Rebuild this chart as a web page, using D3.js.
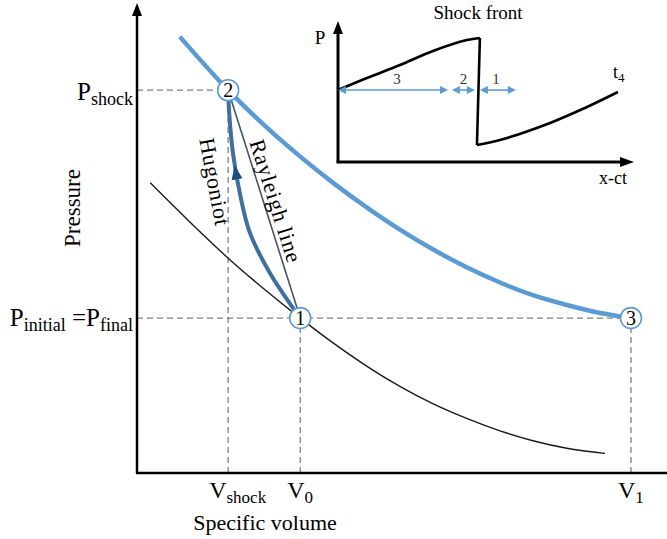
<!DOCTYPE html>
<html>
<head>
<meta charset="utf-8">
<script src="https://cdn.jsdelivr.net/npm/d3@7"></script>
<style>
  body { margin: 0; background: #fff; }
  svg { display: block; font-family: "Liberation Serif", "Times New Roman", serif; }
</style>
</head>
<body>
<div id="graf"></div>
<script>
// Datos (unidades arbitrarias, 0-10 en ambos ejes)
const vShock = 1.72, v0 = 3.08, v1 = 9.32
const pShock = 8.18, pInicial = 3.31

const puntos = ["1", "2", "3"]
const puntosV = [v0, vShock, v1]
const puntosP = [pInicial, pShock, pInicial]

// isentropa (azul claro)
const isoV = [0.81, 1.72, 2.42, 3.08, 3.70, 4.34, 4.96, 5.58, 6.23, 6.85, 7.47, 8.11, 8.74, 9.32]
const isoP = [9.32, 8.18, 7.41, 6.76, 6.20, 5.67, 5.20, 4.78, 4.39, 4.07, 3.80, 3.59, 3.42, 3.31]

// curva negra
const curvaV = [0.25, 1.00, 1.72, 2.42, 3.08, 3.70, 4.34, 4.96, 5.58, 6.23, 6.85, 7.47, 8.11, 8.83]
const curvaP = [6.20, 5.36, 4.59, 3.91, 3.31, 2.78, 2.28, 1.85, 1.48, 1.16, 0.90, 0.69, 0.53, 0.42]

// Hugoniot, de 1 a 2
const hugV = [3.08, 2.51, 2.13, 1.94, 1.81, 1.74, 1.72]
const hugP = [3.31, 4.27, 5.13, 5.98, 6.84, 7.69, 8.18]
const pFlecha = 6.4

// Recuadro: perfil de presion
const frenteX = [0, 0.98, 2.10, 3.22, 4.37, 4.81, 4.71, 5.49, 7.19, 8.37, 9.49]
const frenteP = [5.14, 6.0, 6.93, 7.93, 8.71, 8.86, 1.21, 1.57, 2.79, 3.86, 5.0]
const zonas = ["3", "2", "1"]
const zonasIni = [0, 3.86, 4.81]
const zonasFin = [3.73, 4.64, 6.03]
const pZonas = 5.14

const azul = "#5b9bd5"
const azulOscuro = "#3f6f9f"

const svg = d3.select("#graf").append("svg")
  .attr("width", 667).attr("height", 539)

const x = d3.scaleLinear().domain([0, 10]).range([137, 667])
const y = d3.scaleLinear().domain([0, 10]).range([473, 5])

const zip = (a, b) => a.map((d, i) => [d, b[i]])
const linea = d3.line().x(d => x(d[0])).y(d => y(d[1])).curve(d3.curveCatmullRom)

// lineas punteadas
const guias = [
  [[0, pShock], [vShock, pShock]],
  [[0, pInicial], [v1, pInicial]],
  [[vShock, 0], [vShock, pShock]],
  [[v0, 0], [v0, pInicial]],
  [[v1, 0], [v1, pInicial]],
]
svg.append("g").selectAll("line").data(guias).join("line")
  .attr("x1", d => x(d[0][0])).attr("y1", d => y(d[0][1]))
  .attr("x2", d => x(d[1][0])).attr("y2", d => y(d[1][1]))
  .attr("stroke", "#7f7f7f").attr("stroke-width", 1.3)
  .attr("stroke-dasharray", "6,4")

// ejes
svg.append("line").attr("x1", x(0)).attr("y1", y(0)).attr("x2", x(0)).attr("y2", 14)
  .attr("stroke", "#000").attr("stroke-width", 2.5)
svg.append("path").attr("d", `M${x(0) - 5},16 L${x(0)},3 L${x(0) + 5},16 Z`).attr("fill", "#000")
svg.append("line").attr("x1", x(0) - 1).attr("y1", y(0)).attr("x2", 667).attr("y2", y(0))
  .attr("stroke", "#000").attr("stroke-width", 2.5)

// curvas
const suave = d3.line().x(d => x(d[0])).y(d => y(d[1])).curve(d3.curveMonotoneX)
svg.append("path").attr("d", suave(zip(curvaV, curvaP)))
  .attr("fill", "none").attr("stroke", "#1a1a1a").attr("stroke-width", 1.4)
svg.append("path").attr("d", suave(zip(isoV, isoP)))
  .attr("fill", "none").attr("stroke", azul).attr("stroke-width", 4.5)

// Rayleigh
svg.append("line")
  .attr("x1", x(v0)).attr("y1", y(pInicial)).attr("x2", x(vShock)).attr("y2", y(pShock))
  .attr("stroke", "#44546a").attr("stroke-width", 1.6)

// Hugoniot
const hug = svg.append("path").attr("d", linea(zip(hugV, hugP)))
  .attr("fill", "none").attr("stroke", azulOscuro).attr("stroke-width", 4)
const nodo = hug.node()
const largo = nodo.getTotalLength()
let lf = 0
for (let l = 0; l <= largo; l += 0.5) {
  if (nodo.getPointAtLength(l).y <= y(pFlecha)) { lf = l; break }
}
const pa = nodo.getPointAtLength(lf), pb = nodo.getPointAtLength(lf + 2)
const ang = Math.atan2(pb.y - pa.y, pb.x - pa.x) * 180 / Math.PI
svg.append("path").attr("d", "M8,0 L-6,-5.5 L-6,5.5 Z").attr("fill", "#1f4e79")
  .attr("transform", `translate(${pa.x},${pa.y}) rotate(${ang})`)

// textos sobre las curvas
svg.append("text").attr("transform", "translate(215,182) rotate(79.5)")
  .attr("text-anchor", "middle").attr("dy", "0.35em")
  .attr("font-size", 22).attr("letter-spacing", 0.8).text("Hugoniot")
svg.append("text").attr("transform", "translate(276,201) rotate(72.5)")
  .attr("text-anchor", "middle").attr("dy", "0.35em")
  .attr("font-size", 22).attr("letter-spacing", 0.8).text("Rayleigh line")

// puntos numerados
const gp = svg.append("g").selectAll("g").data(puntos).join("g")
  .attr("transform", (d, i) => `translate(${x(puntosV[i])},${y(puntosP[i])})`)
gp.append("circle").attr("r", 10.5).attr("fill", "#fff")
  .attr("stroke", azul).attr("stroke-width", 1.6)
gp.append("text").attr("text-anchor", "middle").attr("dy", "0.36em")
  .attr("font-size", 20).text(d => d)

// etiquetas de los ejes
const conSub = (sel, base, sub, tam, tamSub) => {
  sel.append("tspan").attr("font-size", tam).text(base)
  sel.append("tspan").attr("font-size", tamSub).attr("dy", 5).text(sub)
}
const tShock = svg.append("text").attr("x", 133).attr("y", y(pShock) + 10).attr("text-anchor", "end")
conSub(tShock, "P", "shock", 25, 18)
const tIni = svg.append("text").attr("x", 133).attr("y", y(pInicial) + 8).attr("text-anchor", "end")
tIni.append("tspan").attr("font-size", 25).text("P")
tIni.append("tspan").attr("font-size", 18).attr("dy", 5).text("initial")
tIni.append("tspan").attr("font-size", 25).attr("dy", -5).text(" =P")
tIni.append("tspan").attr("font-size", 18).attr("dy", 5).text("final")

const tV = [["V", "shock", vShock], ["V", "0", v0], ["V", "1", v1]]
tV.forEach(([b, s, v]) => {
  const t = svg.append("text").attr("x", x(v) - 19 + (s === "shock" ? 0 : 6)).attr("y", 498)
  conSub(t, b, s, 24, 17)
})
svg.append("text").attr("x", 265).attr("y", 530).attr("text-anchor", "middle")
  .attr("font-size", 22).text("Specific volume")
svg.append("text").attr("transform", "translate(72,208) rotate(-90)")
  .attr("text-anchor", "middle").attr("dy", "0.35em")
  .attr("font-size", 23).text("Pressure")

// Recuadro
const xi = d3.scaleLinear().domain([0, 10]).range([338, 633])
const yi = d3.scaleLinear().domain([0, 10]).range([162, 22])
const gi = svg.append("g")
gi.append("line").attr("x1", xi(0)).attr("y1", yi(0)).attr("x2", xi(0)).attr("y2", 32)
  .attr("stroke", "#000").attr("stroke-width", 3)
gi.append("path").attr("d", `M${xi(0) - 5},34 L${xi(0)},21 L${xi(0) + 5},34 Z`).attr("fill", "#000")
gi.append("line").attr("x1", xi(0) - 1.5).attr("y1", yi(0)).attr("x2", 622).attr("y2", yi(0))
  .attr("stroke", "#000").attr("stroke-width", 3)
gi.append("path").attr("d", `M620,${yi(0) - 5} L634,${yi(0)} L620,${yi(0) + 5} Z`).attr("fill", "#000")

const perfil = zip(frenteX, frenteP)
const lineaI = d3.line().x(d => xi(d[0])).y(d => yi(d[1]))
gi.append("path").attr("d", lineaI.curve(d3.curveCatmullRom)(perfil.slice(0, 6)))
  .attr("fill", "none").attr("stroke", "#000").attr("stroke-width", 2.6)
gi.append("path").attr("d", lineaI.curve(d3.curveLinear)(perfil.slice(5, 7)))
  .attr("fill", "none").attr("stroke", "#000").attr("stroke-width", 2.6)
gi.append("path").attr("d", lineaI.curve(d3.curveCatmullRom)(perfil.slice(6)))
  .attr("fill", "none").attr("stroke", "#000").attr("stroke-width", 2.6)

// flechas dobles
const gz = gi.append("g").selectAll("g").data(zonas).join("g")
gz.append("line")
  .attr("x1", (d, i) => xi(zonasIni[i]) + 3).attr("x2", (d, i) => xi(zonasFin[i]) - 3)
  .attr("y1", yi(pZonas)).attr("y2", yi(pZonas))
  .attr("stroke", azul).attr("stroke-width", 1.6)
gz.append("path")
  .attr("d", (d, i) => {
    const a = xi(zonasIni[i]), b = xi(zonasFin[i]), c = yi(pZonas)
    return `M${a},${c} L${a + 8},${c - 4} L${a + 8},${c + 4} Z M${b},${c} L${b - 8},${c - 4} L${b - 8},${c + 4} Z`
  })
  .attr("fill", azul)
gz.append("text")
  .attr("x", (d, i) => (d === "3" ? xi(2.0) : xi((zonasIni[i] + zonasFin[i]) / 2) + (d === "1" ? -2 : 0)))
  .attr("y", yi(pZonas) - 6).attr("text-anchor", "middle")
  .attr("font-size", 15).attr("fill", "#333").text(d => d)

gi.append("text").attr("x", 478).attr("y", 19).attr("text-anchor", "middle")
  .attr("font-size", 19).text("Shock front")
gi.append("text").attr("x", 320).attr("y", 44).attr("text-anchor", "middle")
  .attr("font-size", 19).text("P")
gi.append("text").attr("x", 613).attr("y", 184).attr("text-anchor", "middle")
  .attr("font-size", 18).text("x-ct")
const t4 = gi.append("text").attr("x", 613).attr("y", 78)
t4.append("tspan").attr("font-size", 18).text("t")
t4.append("tspan").attr("font-size", 13).attr("dy", 4).text("4")
</script>
</body>
</html>
